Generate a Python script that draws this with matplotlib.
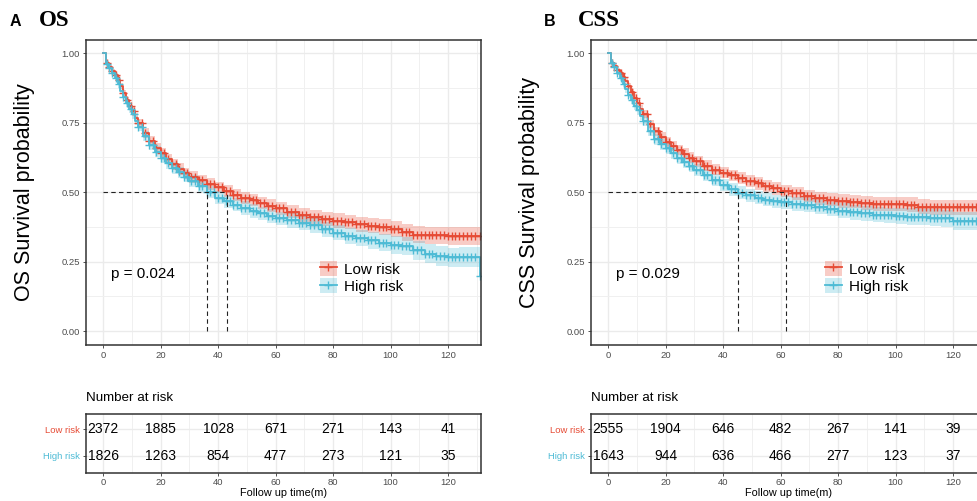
"""
Kaplan-Meier curves for OS and CSS by risk group, with number-at-risk tables.
"""

import matplotlib.pyplot as plt
import numpy as np
from matplotlib.lines import Line2D
from matplotlib.patches import Patch
from matplotlib.ticker import FormatStrFormatter, MultipleLocator

plt.rcParams['font.family'] = ['Liberation Sans', 'DejaVu Sans']

RED = '#E64B35'
BLUE = '#4DBBD5'
groups = ['Low risk', 'High risk']

# follow-up times (months) where survival estimates are read
times = [0, 1, 2, 3, 4, 5, 6, 7, 8, 9, 10, 11, 12, 14, 16, 18, 20, 22, 24, 26,
         28, 30, 33, 36, 39, 42, 45, 48, 51, 54, 57, 60, 64, 68, 72, 76, 80,
         84, 88, 92, 96, 100, 104, 108, 112, 116, 120, 124, 128, 131]

# censoring times (months)
censor_times = [1.3, 2, 3.2, 4.5, 5.6, 7, 8.3, 9.5, 10.8, 12, 13.4, 14.6, 16,
                17.3, 18.5, 20, 21.2, 22.6, 24, 25.3, 26.5, 28, 29.2, 30.6, 32,
                33.3, 34.5, 36, 37.3, 38.6, 40, 41.2, 42.6, 44, 45.3, 46.5, 48,
                49.3, 50.6, 52, 53.2, 54.5, 56, 57.3, 58.6, 60, 61.3, 62.5, 64,
                65.3, 66.6, 68, 69.2, 70.5, 72, 73.3, 74.6, 76, 77.2, 78.5, 80,
                81.3, 82.6, 84, 85.2, 86.5, 88, 89.3, 90.6, 92, 93.2, 94.5, 96,
                97.3, 98.6, 100, 101.2, 102.5, 104, 105.3, 106.6, 108, 109.2,
                110.5, 112, 113.3, 114.6, 116, 117.2, 118.5, 120, 121.3, 122.6,
                124, 125.2, 126.5, 128, 129.3, 131]

# OS
os_low = [1.0, 0.965, 0.951, 0.935, 0.92, 0.903, 0.88, 0.855, 0.83, 0.81,
          0.79, 0.768, 0.747, 0.712, 0.683, 0.66, 0.639, 0.619, 0.6, 0.583,
          0.568, 0.555, 0.542, 0.53, 0.517, 0.505, 0.489, 0.48, 0.471, 0.461,
          0.451, 0.441, 0.429, 0.417, 0.409, 0.404, 0.397, 0.392, 0.385, 0.379,
          0.374, 0.366, 0.355, 0.347, 0.345, 0.344, 0.343, 0.343, 0.343, 0.343]
os_high = [1.0, 0.96, 0.948, 0.93, 0.91, 0.887, 0.865, 0.842, 0.82, 0.8,
           0.78, 0.757, 0.735, 0.7, 0.67, 0.645, 0.623, 0.603, 0.586, 0.571,
           0.556, 0.541, 0.523, 0.5, 0.48, 0.467, 0.455, 0.443, 0.432, 0.423,
           0.413, 0.405, 0.398, 0.39, 0.38, 0.367, 0.354, 0.343, 0.335, 0.327,
           0.318, 0.31, 0.305, 0.29, 0.278, 0.27, 0.265, 0.265, 0.265, 0.198]
os_low_ci = [0.0, 0.006, 0.007, 0.008, 0.009, 0.01, 0.011, 0.012, 0.013, 0.014,
             0.015, 0.015, 0.016, 0.017, 0.018, 0.018, 0.019, 0.019, 0.02, 0.02,
             0.02, 0.021, 0.021, 0.021, 0.021, 0.022, 0.022, 0.022, 0.022, 0.023,
             0.023, 0.023, 0.024, 0.024, 0.025, 0.025, 0.026, 0.026, 0.027, 0.027,
             0.028, 0.029, 0.03, 0.031, 0.031, 0.032, 0.032, 0.032, 0.032, 0.032]
os_high_ci = [0.0, 0.007, 0.008, 0.009, 0.01, 0.011, 0.012, 0.013, 0.014, 0.015,
              0.016, 0.016, 0.017, 0.018, 0.019, 0.019, 0.02, 0.02, 0.021, 0.021,
              0.021, 0.022, 0.022, 0.022, 0.023, 0.023, 0.023, 0.024, 0.024, 0.024,
              0.025, 0.025, 0.026, 0.026, 0.027, 0.027, 0.028, 0.029, 0.029, 0.03,
              0.031, 0.031, 0.032, 0.033, 0.034, 0.035, 0.035, 0.036, 0.036, 0.036]
os_medians = [43, 36]
os_risk_low = [2372, 1885, 1028, 671, 271, 143, 41]
os_risk_high = [1826, 1263, 854, 477, 273, 121, 35]

# CSS
css_low = [1.0, 0.965, 0.955, 0.94, 0.928, 0.915, 0.9, 0.88, 0.86, 0.84,
           0.82, 0.8, 0.78, 0.745, 0.718, 0.698, 0.68, 0.666, 0.652, 0.638,
           0.624, 0.61, 0.595, 0.581, 0.57, 0.56, 0.55, 0.54, 0.531, 0.522,
           0.513, 0.503, 0.496, 0.486, 0.478, 0.473, 0.468, 0.466, 0.462, 0.458,
           0.457, 0.457, 0.455, 0.448, 0.445, 0.445, 0.445, 0.445, 0.445, 0.445]
css_high = [1.0, 0.965, 0.95, 0.93, 0.91, 0.89, 0.87, 0.85, 0.83, 0.81,
            0.795, 0.775, 0.755, 0.72, 0.69, 0.672, 0.657, 0.64, 0.623, 0.608,
            0.594, 0.579, 0.561, 0.543, 0.525, 0.51, 0.498, 0.488, 0.48, 0.473,
            0.467, 0.463, 0.458, 0.453, 0.447, 0.44, 0.433, 0.428, 0.423, 0.419,
            0.416, 0.414, 0.412, 0.41, 0.408, 0.405, 0.397, 0.397, 0.397, 0.397]
css_low_ci = [0.0, 0.005, 0.006, 0.007, 0.008, 0.009, 0.01, 0.011, 0.012, 0.013,
              0.014, 0.014, 0.015, 0.016, 0.017, 0.017, 0.018, 0.018, 0.019, 0.019,
              0.019, 0.02, 0.02, 0.02, 0.021, 0.021, 0.021, 0.021, 0.022, 0.022,
              0.022, 0.022, 0.023, 0.023, 0.023, 0.024, 0.024, 0.024, 0.025, 0.025,
              0.025, 0.026, 0.026, 0.027, 0.027, 0.028, 0.028, 0.028, 0.028, 0.028]
css_high_ci = [0.0, 0.007, 0.008, 0.009, 0.01, 0.011, 0.012, 0.013, 0.014, 0.015,
               0.016, 0.016, 0.017, 0.018, 0.019, 0.019, 0.02, 0.02, 0.021, 0.021,
               0.021, 0.022, 0.022, 0.022, 0.022, 0.023, 0.023, 0.023, 0.023, 0.024,
               0.024, 0.024, 0.025, 0.025, 0.025, 0.026, 0.026, 0.027, 0.027, 0.028,
               0.028, 0.029, 0.029, 0.03, 0.03, 0.031, 0.032, 0.032, 0.032, 0.032]
css_medians = [62, 45]
css_risk_low = [2555, 1904, 646, 482, 267, 141, 39]
css_risk_high = [1643, 944, 636, 466, 277, 123, 37]

risk_times = [0, 20, 40, 60, 80, 100, 120]

W, H = 977, 501
XLIM = (-6, 131.5)


def style_axes(ax):
    ax.set_xlim(*XLIM)
    ax.xaxis.set_major_locator(MultipleLocator(20))
    ax.xaxis.set_minor_locator(MultipleLocator(10))
    ax.grid(which='major', color='#EBEBEB', lw=1.0)
    ax.grid(which='minor', color='#F0F0F0', lw=0.7)
    ax.set_axisbelow(True)
    for sp in ax.spines.values():
        sp.set_color('#333333')
        sp.set_linewidth(1.1)
    ax.tick_params(which='major', length=2.5, width=0.6, color='#333333',
                   labelsize=6.8, labelcolor='#4D4D4D', pad=2)
    ax.tick_params(which='minor', length=0)


def draw_panel(x0, letter_x, title_x, letter, title, ylabel, low, high,
               low_ci, high_ci, medians, pval, risk_low, risk_high):
    t = np.array(times, dtype=float)
    ax = fig.add_axes([x0 / W, 1 - 345 / H, 395 / W, 305 / H])
    style_axes(ax)
    ax.set_ylim(-0.05, 1.047)
    ax.yaxis.set_major_locator(MultipleLocator(0.25))
    ax.yaxis.set_minor_locator(MultipleLocator(0.125))
    ax.yaxis.set_major_formatter(FormatStrFormatter('%.2f'))

    for s, ci, col in [(low, low_ci, RED), (high, high_ci, BLUE)]:
        s = np.array(s)
        ci = np.array(ci)
        ax.fill_between(t, s - ci, s + ci, step='post', color=col,
                        alpha=0.28, lw=0)
    c = np.array(censor_times)
    idx = np.searchsorted(t, c, side='right') - 1
    for s, col in [(low, RED), (high, BLUE)]:
        s = np.array(s)
        ax.step(t, s, where='post', color=col, lw=1.3)
        ax.plot(c, s[idx], '+', color=col, ms=5.5, mew=1.0)

    # median survival reference lines
    ax.plot([0, max(medians)], [0.5, 0.5], ls='--', color='#222222',
            lw=0.8, dashes=(4, 3))
    for m in medians:
        ax.plot([m, m], [0, 0.5], ls='--', color='#222222', lw=0.8,
                dashes=(4, 3))

    ax.text(2.8, 0.205, pval, fontsize=11, va='center', ha='left')

    handles = [(Patch(facecolor=RED, alpha=0.28, lw=0),
                Line2D([], [], color=RED, marker='+', lw=1.3, ms=5.5)),
               (Patch(facecolor=BLUE, alpha=0.28, lw=0),
                Line2D([], [], color=BLUE, marker='+', lw=1.3, ms=5.5))]
    ax.legend(handles, groups, loc='upper left', bbox_to_anchor=(0.592, 0.275),
              frameon=False, fontsize=11, handlelength=1.1, handleheight=1.1,
              handletextpad=0.5, labelspacing=0.12, borderpad=0,
              borderaxespad=0)

    fig.text((x0 - 61) / W, 1 - 192 / H, ylabel, rotation=90, fontsize=15.5,
             ha='center', va='center')
    fig.text(letter_x / W, 1 - 22 / H, letter, fontsize=11.5,
             fontweight='bold', ha='left', va='center')
    fig.text(title_x / W, 1 - 20 / H, title, fontsize=16.5,
             fontweight='bold', family='Liberation Serif', ha='left',
             va='center')

    # number-at-risk table
    tab = fig.add_axes([x0 / W, 1 - 473 / H, 395 / W, 59 / H])
    style_axes(tab)
    tab.tick_params(axis='x', pad=1)
    tab.set_ylim(0.37, 2.556)
    tab.set_yticks([2, 1])
    tab.set_yticklabels(groups)
    for lbl, col in zip(tab.get_yticklabels(), [RED, BLUE]):
        lbl.set_color(col)
    tab.grid(which='major', axis='y', color='#EBEBEB', lw=1.0)
    for x, a, b in zip(risk_times, risk_low, risk_high):
        tab.text(x, 2, str(a), fontsize=10, ha='center', va='center')
        tab.text(x, 1, str(b), fontsize=10, ha='center', va='center')
    tab.set_xlabel('Follow up time(m)', fontsize=7.8, labelpad=1)
    fig.text(x0 / W, 1 - 398 / H, 'Number at risk', fontsize=9.6,
             ha='left', va='center')


fig = plt.figure(figsize=(W / 100, H / 100), dpi=100)

draw_panel(86, 10, 39, 'A', 'OS', 'OS Survival probability', os_low, os_high,
           os_low_ci, os_high_ci, os_medians, 'p = 0.024',
           os_risk_low, os_risk_high)
draw_panel(591, 544, 578, 'B', 'CSS', 'CSS Survival probability', css_low,
           css_high, css_low_ci, css_high_ci, css_medians, 'p = 0.029',
           css_risk_low, css_risk_high)

fig.savefig('out.png', dpi=100)
